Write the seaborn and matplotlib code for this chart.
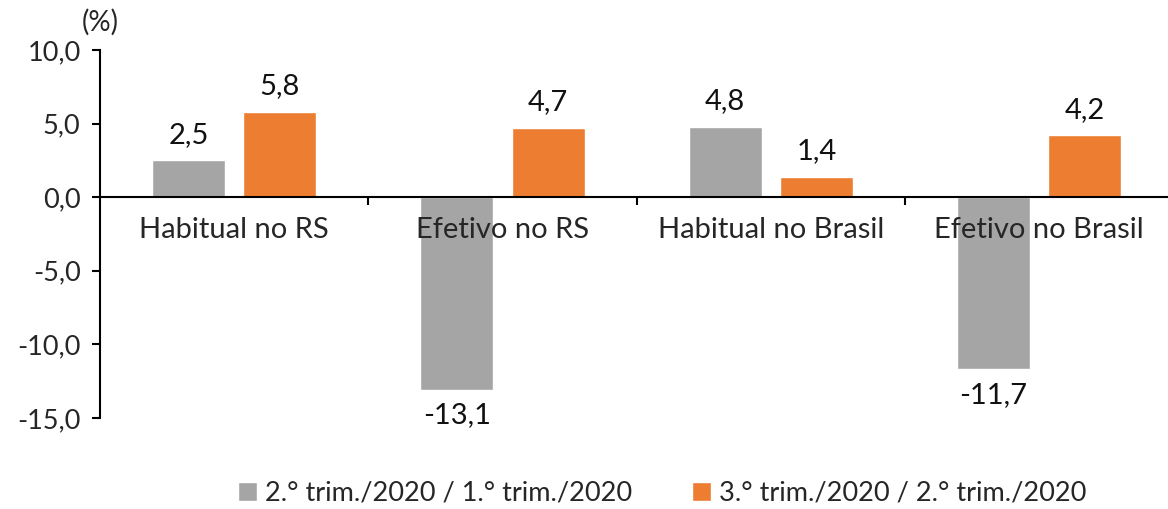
import pandas as pd
import numpy as np
import seaborn as sns
import matplotlib.pyplot as plt

# variação do rendimento médio real (%)
categorias = ["Habitual no RS", "Efetivo no RS", "Habitual no Brasil", "Efetivo no Brasil"]
serie_2t = [2.5, -13.1, 4.8, -11.7]
serie_3t = [5.8, 4.7, 1.4, 4.2]
nomes = ["2.° trim./2020 / 1.° trim./2020", "3.° trim./2020 / 2.° trim./2020"]
cores = ["#A5A5A5", "#ED7D31"]

df = pd.DataFrame({
    "categoria": categorias * 2,
    "serie": [nomes[0]] * 4 + [nomes[1]] * 4,
    "valor": serie_2t + serie_3t,
})

sns.set_style("ticks")
plt.rcParams["font.family"] = ["Lato", "DejaVu Sans"]
fs = 21

fig = plt.figure(figsize=(11.68, 5.09), dpi=100)
ax = fig.add_axes([100 / 1168, 1 - 418 / 509, 1 - 100 / 1168, (418 - 50) / 509])

sns.barplot(data=df, x="categoria", y="valor", hue="serie", palette=cores,
            width=0.68, gap=0.2, saturation=1, ax=ax, legend=True)

# rótulos com vírgula decimal
for cont in ax.containers:
    vals = cont.datavalues
    ax.bar_label(cont, labels=[f"{v:.1f}".replace(".", ",") for v in vals],
                 padding=9, fontsize=fs, color="#111111")

ax.set_ylim(-15, 10)
ax.set_xlim(-0.5, 3.48)
ax.set_yticks(np.arange(-15, 10.1, 5))
ax.set_yticklabels([f"{v:.1f}".replace(".", ",") for v in np.arange(-15, 10.1, 5)], fontsize=19.5)
ax.tick_params(axis="y", length=6, width=1.5, direction="out", pad=8, color="black")

# eixo x na linha do zero
ax.spines["bottom"].set_position(("data", 0))
for s in ["left", "bottom"]:
    ax.spines[s].set_linewidth(1.5)
    ax.spines[s].set_color("black")
ax.spines["right"].set_visible(False)
ax.spines["top"].set_visible(False)
ax.set_xticks([0.5, 1.5, 2.5], minor=True)
ax.tick_params(axis="x", which="minor", length=6, width=1.5, direction="out", color="black")
ax.tick_params(axis="x", which="major", length=0, pad=14, labelsize=fs)
ax.set_axisbelow(False)
ax.set_xlabel("")
ax.set_ylabel("")

fig.text(100 / 1168, 1 - 22 / 509, "(%)", fontsize=20, ha="center", va="center")

leg = ax.legend(loc="center", ncol=2, frameon=False,
                fontsize=19.5, handlelength=0.7, handleheight=0.7, handletextpad=0.3,
                columnspacing=2.2)
leg.set_bbox_to_anchor((662 / 1168, 1 - 493 / 509), transform=fig.transFigure)

fig.savefig("out.png", dpi=100)
